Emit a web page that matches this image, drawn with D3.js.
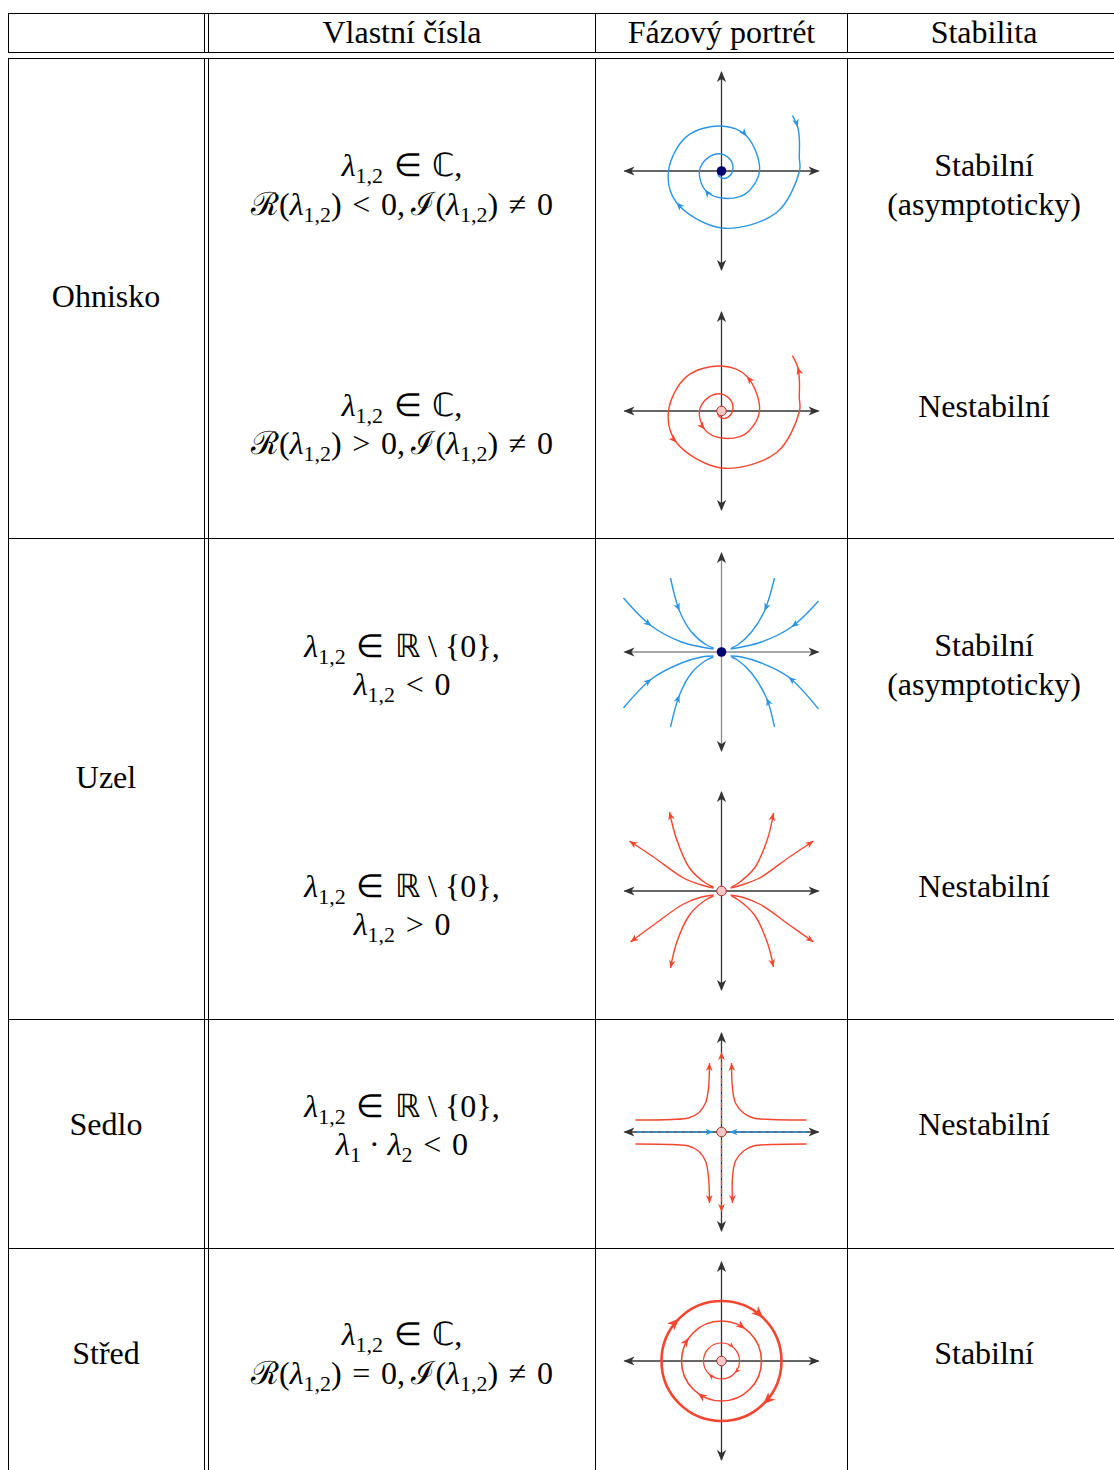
<!DOCTYPE html>
<html>
<head>
<meta charset="utf-8">
<script src="https://cdn.jsdelivr.net/npm/d3@7"></script>
<style>
  body { margin: 0; background: #fff; }
</style>
</head>
<body>
<div id="chart"></div>
<script>
// ---- data ----
const headers = ["", "Vlastní čísla", "Fázový portrét", "Stabilita"];
const groups = ["Ohnisko", "Uzel", "Sedlo", "Střed"];
const caseGroup = [0, 0, 1, 1, 2, 3];
// \u2004 = slightly wider space around relations, \u2009 = thin space after comma
const eigenLines = [
  ["λ_{1,2}\u2004∈\u2004ℂ,", "ℛ(λ_{1,2})\u2004<\u20040,\u2009ℐ(λ_{1,2})\u2004≠\u20040"],
  ["λ_{1,2}\u2004∈\u2004ℂ,", "ℛ(λ_{1,2})\u2004>\u20040,\u2009ℐ(λ_{1,2})\u2004≠\u20040"],
  ["λ_{1,2}\u2004∈\u2004ℝ \\ {0},", "λ_{1,2}\u2004<\u20040"],
  ["λ_{1,2}\u2004∈\u2004ℝ \\ {0},", "λ_{1,2}\u2004>\u20040"],
  ["λ_{1,2}\u2004∈\u2004ℝ \\ {0},", "λ_{1} · λ_{2}\u2004<\u20040"],
  ["λ_{1,2}\u2004∈\u2004ℂ,", "ℛ(λ_{1,2})\u2004=\u20040,\u2009ℐ(λ_{1,2})\u2004≠\u20040"]
];
const stability = [
  ["Stabilní", "(asymptoticky)"], ["Nestabilní"],
  ["Stabilní", "(asymptoticky)"], ["Nestabilní"],
  ["Nestabilní"], ["Stabilní"]
];
const portraitKind = ["spiral", "spiral", "node", "node", "saddle", "center"];
const portraitStable = [true, false, true, false, false, false];

// spiral: [angle deg clockwise from 12 o'clock, radius]
const spiralTurns = [[52, 90], [60, 88], [68, 84], [80, 79], [90, 78], [127, 69], [180, 57], [235, 55],
  [270, 53], [315, 49], [360, 45], [396, 43], [450, 38], [495, 33], [540, 27], [582, 25], [630, 22],
  [675, 19], [720, 17], [765, 14], [810, 11], [855, 9], [900, 7], [945, 5], [990, 3]];
const spiralArrowIdx = [1, 7, 11, 15];

// node trajectories (x right, y down), listed from outside towards the centre
const nodeStableCurves = [
  [[-98, -54], [-70, -26], [-40, -10], [-20, -5], [-8, -3]],
  [[-51, -74], [-42, -41], [-30, -20], [-15, -7], [-8, -4]],
  [[97, -51], [70, -25], [40, -10], [20, -5], [9, -3]],
  [[53, -74], [43, -41], [30, -20], [16, -7], [10, -4]],
  [[-98, 56], [-70, 27], [-40, 11], [-20, 5], [-8, 4]],
  [[-51, 75], [-42, 43], [-30, 21], [-15, 8], [-8, 5]],
  [[97, 57], [67, 25], [40, 11], [20, 5], [9, 4]],
  [[53, 75], [45, 46], [30, 21], [16, 8], [10, 5]]
];
const nodeStableArrowIdx = 1;
// listed from the centre outwards
const nodeUnstableCurves = [
  [[-8, -3], [-20, -6], [-38, -13], [-68, -34], [-92, -50]],
  [[-8, -4], [-16, -8], [-32, -23], [-45, -52], [-52, -79]],
  [[9, -3], [20, -6], [38, -13], [68, -34], [92, -50]],
  [[10, -4], [17, -8], [33, -23], [46, -52], [52, -78]],
  [[-8, 4], [-20, 6], [-38, 13], [-68, 34], [-91, 51]],
  [[-8, 5], [-16, 9], [-32, 24], [-45, 52], [-51, 77]],
  [[9, 4], [20, 6], [38, 13], [68, 34], [92, 51]],
  [[10, 5], [17, 9], [33, 24], [46, 52], [52, 76]]
];

// saddle hyperbolas, from far left/right towards the vertical ends
const saddleCurves = [
  [[-86, -12], [-50, -12.5], [-33, -14], [-23, -19], [-16, -29], [-13, -44], [-12, -69]],
  [[85, -12], [50, -12.5], [32, -14], [22, -19], [14, -29], [11, -44], [10, -69]],
  [[-86, 12], [-50, 12.5], [-33, 14], [-23, 19], [-16, 29], [-13, 45], [-12, 71]],
  [[85, 12], [50, 12.5], [32, 14], [22, 19], [14, 29], [11, 45], [11, 71]]
];
const saddleStable = [[[-85, 0], [-8, 0]], [[85, 0], [8, 0]]];
const saddleUnstable = [[[0, -8], [0, -80]], [[0, 8], [0, 80]]];

// centre: circle radii and arrow angles (deg clockwise from 12 o'clock)
const centerRadii = [18, 40, 60];
const centerArrows = [[43, 133, 224], [36, 216, 305], [44, 136, 315]];

// ---- layout ----
const W = 1114, H = 1470;
const colCenter = [106, 402, 721.5, 984];
const vLines = [8.5, 204.5, 208.5, 595.5, 847.5];
const hLines = [13.5, 52.5, 58.5, 538.5, 1019.5, 1248.5];
const groupY = [296, 777, 1124, 1353];
const portraitY = [171, 411, 652, 891, 1132, 1361];
const eigenY = [184.5, 424, 665, 905, 1125, 1353.5];
const stabY = [184.5, 406, 664.5, 886, 1124, 1353];
const lineGap = 38.5, baseOff = 11;

const BLUE = "#2b95e3", RED = "#f4452f", AXIS = "#333";

const svg = d3.select("#chart").append("svg")
  .attr("width", W).attr("height", H);

// table rules
const rules = svg.append("g").attr("stroke", "#000").attr("stroke-width", 1);
hLines.forEach(y => rules.append("line").attr("x1", 8).attr("x2", W).attr("y1", y).attr("y2", y));
vLines.forEach(x => {
  rules.append("line").attr("x1", x).attr("x2", x).attr("y1", 13.5).attr("y2", 52.5);
  rules.append("line").attr("x1", x).attr("x2", x).attr("y1", 58.5).attr("y2", H);
});

// simple math-ish text: _{..} => subscript, λ italic
function mathText(text, str) {
  let shift = 0;
  str.split(/(_\{[^}]*\})/).forEach(p => {
    if (!p) return;
    if (p.startsWith("_{")) {
      text.append("tspan").style("font-size", "22px").attr("dy", 7 - shift).text(p.slice(2, -1));
      shift = 7;
    } else {
      p.split(/(λ)/).forEach(q => {
        if (!q) return;
        const t = text.append("tspan").text(q);
        if (q === "λ") t.style("font-style", "italic");
        if (shift) { t.attr("dy", -shift); shift = 0; }
      });
    }
  });
}

function lines(x, yc, arr, fn) {
  const y0 = yc - (arr.length - 1) * lineGap / 2 + baseOff;
  arr.forEach((s, i) => {
    const t = svg.append("text").attr("x", x).attr("y", y0 + i * lineGap)
      .attr("text-anchor", "middle")
      .style("font-family", "\"Liberation Serif\"").style("font-size", "32px");
    fn ? fn(t, s) : t.text(s);
  });
}

headers.forEach((h, i) => lines(colCenter[i], 32, [h]));
groups.forEach((g, i) => lines(colCenter[0], groupY[i], [g]));
eigenLines.forEach((e, i) => lines(colCenter[1], eigenY[i], e, mathText));
stability.forEach((s, i) => lines(colCenter[3], stabY[i], s));

// ---- phase portraits ----
function arrowHead(g, p, ang, size, color) {
  const w = size * 0.42;
  g.append("path")
    .attr("d", `M0,0L${-size},${-w}L${-size * 0.72},0L${-size},${w}Z`)
    .attr("transform", `translate(${p[0]},${p[1]}) rotate(${ang * 180 / Math.PI})`)
    .attr("fill", color);
}
function dirAt(pts, i) {
  const a = pts[Math.max(0, i - 1)], b = pts[Math.min(pts.length - 1, i + 1)];
  return Math.atan2(b[1] - a[1], b[0] - a[0]);
}
const curveLine = d3.line().curve(d3.curveCatmullRom.alpha(0.5));

function drawCurve(g, pts, color, arrows, opts = {}) {
  g.append("path").attr("d", curveLine(pts)).attr("fill", "none")
    .attr("stroke", color).attr("stroke-width", opts.width || 1.4)
    .attr("stroke-dasharray", opts.dash || null);
  arrows.forEach(([i, rev]) => arrowHead(g, pts[i], dirAt(pts, i) + (rev ? Math.PI : 0), opts.size || 8, color));
}

portraitKind.forEach((kind, k) => {
  const cx = colCenter[2], cy = portraitY[k];
  const sx = d3.scaleLinear().domain([-100, 100]).range([cx - 100, cx + 100]);
  const sy = d3.scaleLinear().domain([-100, 100]).range([cy - 100, cy + 100]); // y downwards
  const P = d => [sx(d[0]), sy(d[1])];
  const stable = portraitStable[k];
  const g = svg.append("g");

  // axes
  const axCol = kind === "node" && stable ? "#8a8a8a" : AXIS;
  g.append("line").attr("x1", sx(-97)).attr("x2", sx(97)).attr("y1", cy).attr("y2", cy)
    .attr("stroke", axCol).attr("stroke-width", 1.3);
  g.append("line").attr("x1", cx).attr("x2", cx).attr("y1", sy(-99)).attr("y2", sy(99))
    .attr("stroke", axCol).attr("stroke-width", 1.3);

  const col = stable ? BLUE : RED;
  if (kind === "spiral") {
    const pts = spiralTurns.map(([a, r]) => P(d3.pointRadial(a * Math.PI / 180, r)));
    drawCurve(g, pts, col, spiralArrowIdx.map(i => [i, !stable]));
  } else if (kind === "node") {
    if (stable) nodeStableCurves.forEach(c => drawCurve(g, c.map(P), col, [[nodeStableArrowIdx, false]]));
    else nodeUnstableCurves.forEach(c => drawCurve(g, c.map(P), col, [[c.length - 1, false]]));
  } else if (kind === "saddle") {
    saddleStable.forEach(c => drawCurve(g, c.map(P), BLUE, [[1, false]], { dash: "6,2", width: 1.4 }));
    saddleUnstable.forEach(c => drawCurve(g, c.map(P), RED, [[1, false]], { dash: "6,2", width: 1.2 }));
    saddleCurves.forEach(c => drawCurve(g, c.map(P), RED, [[c.length - 1, false]]));
  } else if (kind === "center") {
    const widths = [1.2, 1.6, 2.6], sizes = [6, 9, 12];
    centerRadii.forEach((r, i) => {
      g.append("circle").attr("cx", cx).attr("cy", cy).attr("r", sx(r) - sx(0))
        .attr("fill", "none").attr("stroke", RED).attr("stroke-width", widths[i]);
      centerArrows[i].forEach(a => {
        const rad = a * Math.PI / 180;
        arrowHead(g, P(d3.pointRadial(rad, r)), rad, sizes[i], RED);
      });
    });
  }

  // axis arrowheads
  arrowHead(g, [sx(98), cy], 0, 11, AXIS);
  arrowHead(g, [sx(-98), cy], Math.PI, 11, AXIS);
  arrowHead(g, [cx, sy(-100)], -Math.PI / 2, 11, AXIS);
  arrowHead(g, [cx, sy(100)], Math.PI / 2, 11, AXIS);

  // equilibrium point
  if (stable) g.append("circle").attr("cx", cx).attr("cy", cy).attr("r", 4.8).attr("fill", "#00006e");
  else g.append("circle").attr("cx", cx).attr("cy", cy).attr("r", 4.8)
    .attr("fill", "#f7c6c6").attr("stroke", "#a83232").attr("stroke-width", 1);
});
</script>
</body>
</html>
